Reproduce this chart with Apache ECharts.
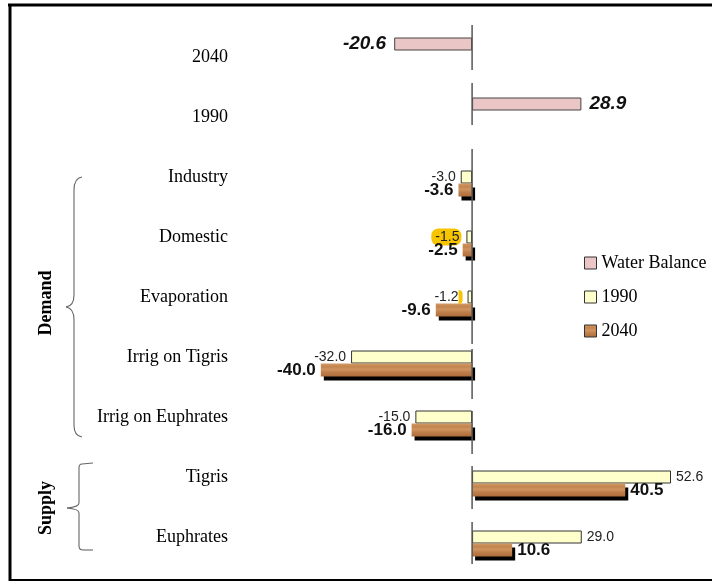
<!DOCTYPE html>
<html>
<head>
<meta charset="utf-8">
<script src="https://cdn.jsdelivr.net/npm/echarts@6/dist/echarts.min.js"></script>
<style>
  html, body { margin: 0; padding: 0; background: #fff; }
  #chart { width: 712px; height: 585px; }
</style>
</head>
<body>
<div id="chart"></div>
<script>
// Water balance of the basin, 1990 vs 2040 (demand negative, supply positive)
const categories = ['2040', '1990', 'Industry', 'Domestic', 'Evaporation',
  'Irrig on Tigris', 'Irrig on Euphrates', 'Tigris', 'Euphrates'];
const waterBalance = [-20.6, 28.9, null, null, null, null, null, null, null];
const values1990 = [null, null, -3.0, -1.5, -1.2, -32.0, -15.0, 52.6, 29.0];
const values2040 = [null, null, -3.6, -2.5, -9.6, -40.0, -16.0, 40.5, 10.6];
const seriesNames = ['Water Balance', '1990', '2040'];
const groupNames = ['Demand', 'Supply'];

const SERIF = '"Liberation Serif", "DejaVu Serif", serif';
const SANS = '"Liberation Sans", Arial, sans-serif';

// Broken zero line: each run covers a range of rows, extended in pixels above/below
const zeroLineRuns = [
  { from: 0, to: 0, above: 32, below: 13 },
  { from: 1, to: 1, above: 34, below: 8 },
  { from: 2, to: 4, above: 28, below: 47 },
  { from: 5, to: 5, above: 8, below: 42 },
  { from: 6, to: 6, above: 6, below: 37 },
  { from: 7, to: 7, above: 11, below: 32 },
  { from: 8, to: 8, above: 15, below: 27 }
];

function sideLabel(v, extra) {
  return Object.assign({ position: v < 0 ? 'left' : 'right' }, extra || {});
}

function toItems(arr, extraByIndex) {
  return arr.map((v, i) => {
    if (v == null) return null;
    return { value: v, label: sideLabel(v, extraByIndex && extraByIndex[i]) };
  });
}

const wood = {
  type: 'linear', x: 0, y: 0, x2: 0, y2: 1,
  colorStops: [
    { offset: 0, color: '#d29a66' },
    { offset: 0.25, color: '#c4854f' },
    { offset: 0.45, color: '#cf9461' },
    { offset: 0.7, color: '#bd7c48' },
    { offset: 1, color: '#ad6d3c' }
  ]
};

// Highlight marks behind two of the small 1990 labels
const highlight1990 = {
  3: { backgroundColor: '#f6c500', borderRadius: 7, padding: [2, 2, 1, 4] },
  4: { formatter: (p) => '{t|' + p.value.toFixed(1) + '}{h|}',
       rich: { t: { fontFamily: SANS, fontSize: 14, color: '#222' },
               h: { backgroundColor: '#f6c500', width: 4, height: 14, borderRadius: [0, 6, 6, 0] } } }
};

// Curly brace pieces built from straight lines and quadratic curves
const braceStyle = { stroke: '#666', lineWidth: 1.1, fill: 'none' };
function seg(x1, y1, x2, y2) {
  return { type: 'line', silent: true, shape: { x1, y1, x2, y2 }, style: braceStyle };
}
function curve(x1, y1, cx, cy, x2, y2) {
  return { type: 'bezierCurve', silent: true,
           shape: { x1, y1, cpx1: cx, cpy1: cy, x2, y2 }, style: braceStyle };
}

const chart = echarts.init(document.getElementById('chart'), null, { renderer: 'canvas' });

const option = {
  animation: false,
  backgroundColor: '#fff',
  grid: { left: 283, right: 13, top: 27, bottom: 18, containLabel: false },
  xAxis: {
    type: 'value', min: -50, max: 60, show: false
  },
  yAxis: {
    type: 'category', data: categories, inverse: true,
    axisLine: { show: false, onZero: false },
    axisTick: { show: false },
    splitLine: { show: false },
    axisLabel: { margin: 55, fontFamily: SERIF, fontSize: 18, color: '#000' }
  },
  legend: {
    data: seriesNames,
    orient: 'vertical',
    left: 579, top: 249,
    itemWidth: 12, itemHeight: 12, itemGap: 16,
    icon: 'rect',
    textStyle: { fontFamily: SERIF, fontSize: 18, color: '#000' },
    itemStyle: { shadowColor: 'rgba(0,0,0,0)', shadowOffsetX: 0, shadowOffsetY: 0,
                 borderColor: '#333', borderWidth: 1 }
  },
  series: [
    {
      name: 'Water Balance', type: 'bar', barWidth: 13, barGap: '0%',
      data: toItems(waterBalance),
      itemStyle: { color: '#ebc6c6', borderColor: '#444', borderWidth: 1 },
      label: { show: true, distance: 8, fontFamily: SANS, fontSize: 19,
               fontWeight: 'bold', fontStyle: 'italic', color: '#111',
               formatter: (p) => p.value.toFixed(1) },
      z: 3
    },
    {
      name: '1990', type: 'bar', barWidth: 13, barGap: '0%',
      data: toItems(values1990, highlight1990),
      itemStyle: { color: '#ffffcc', borderColor: '#333', borderWidth: 1 },
      label: { show: true, distance: 5, fontFamily: SANS, fontSize: 14, color: '#222',
               formatter: (p) => p.value.toFixed(1) },
      z: 3
    },
    {
      name: '2040', type: 'bar', barWidth: 13, barGap: '0%',
      data: toItems(values2040),
      itemStyle: { color: wood, borderWidth: 0,
                   shadowColor: '#000', shadowBlur: 0, shadowOffsetX: 3, shadowOffsetY: 4 },
      label: { show: true, distance: 5, fontFamily: SANS, fontSize: 17,
               fontWeight: 'bold', color: '#111',
               formatter: (p) => p.value.toFixed(1) },
      z: 3
    },
    {
      name: 'zero', type: 'custom', silent: true, z: 4,
      encode: { x: 0, y: 1 },
      data: zeroLineRuns.map((r) => [0, r.from, r.to]),
      renderItem: function (params, api) {
        const run = zeroLineRuns[params.dataIndex];
        const p1 = api.coord([0, api.value(1)]);
        const p2 = api.coord([0, api.value(2)]);
        return {
          type: 'line',
          shape: { x1: p1[0], y1: p1[1] - run.above, x2: p2[0], y2: p2[1] + run.below },
          style: { stroke: '#555', lineWidth: 1.5 }
        };
      }
    }
  ],
  graphic: [
    // frame
    { type: 'line', shape: { x1: 8, y1: 5, x2: 712, y2: 5 }, style: { stroke: '#000', lineWidth: 3 } },
    { type: 'line', shape: { x1: 10, y1: 4, x2: 10, y2: 581 }, style: { stroke: '#000', lineWidth: 3 } },
    { type: 'line', shape: { x1: 9, y1: 580, x2: 712, y2: 580 }, style: { stroke: '#000', lineWidth: 2 } },
    // Demand brace
    curve(82, 177, 74, 178, 74, 190),
    seg(74, 190, 74, 295),
    curve(74, 295, 74, 306, 66, 307),
    curve(66, 307, 74, 308, 74, 320),
    seg(74, 320, 74, 425),
    curve(74, 425, 74, 436, 82, 437),
    // Supply bracket
    seg(93, 463, 82, 464),
    curve(82, 464, 79, 464, 79, 468),
    seg(79, 468, 79, 503),
    curve(79, 503, 79, 507, 67, 508),
    curve(67, 508, 79, 509, 79, 513),
    seg(79, 513, 79, 546),
    curve(79, 546, 79, 550, 83, 550),
    seg(83, 550, 93, 550),
    { type: 'text', x: 46, y: 303, rotation: Math.PI / 2,
      style: { text: groupNames[0], font: 'bold 18px ' + SERIF, fill: '#000',
               align: 'center', verticalAlign: 'middle' } },
    { type: 'text', x: 46, y: 508, rotation: Math.PI / 2,
      style: { text: groupNames[1], font: 'bold 18px ' + SERIF, fill: '#000',
               align: 'center', verticalAlign: 'middle' } }
  ]
};

chart.setOption(option);
</script>
</body>
</html>
